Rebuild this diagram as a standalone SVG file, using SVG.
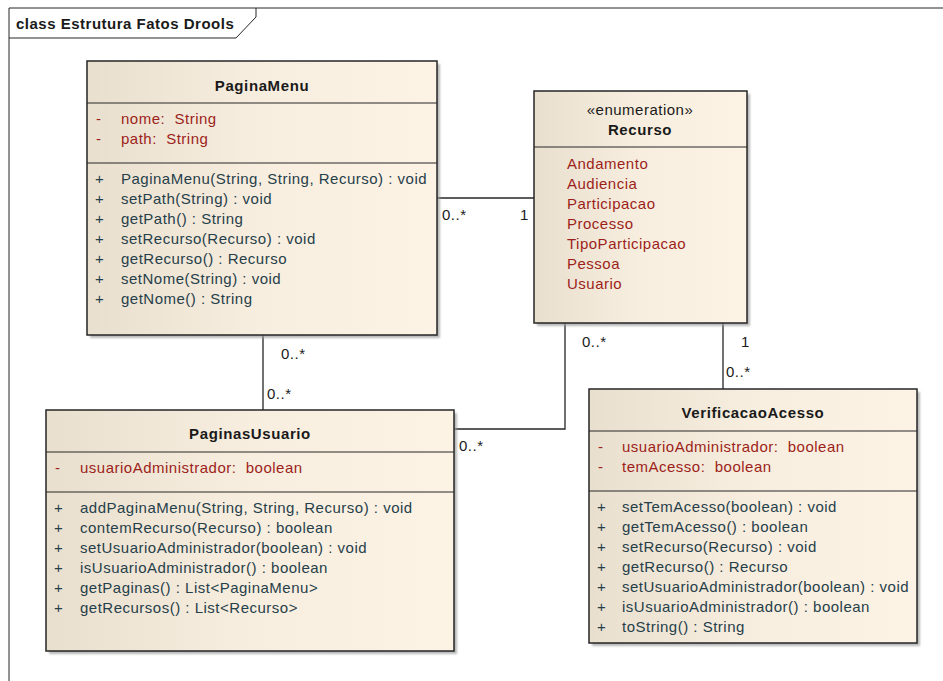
<svg xmlns="http://www.w3.org/2000/svg" width="943" height="681" viewBox="0 0 943 681">
  <defs>
    <linearGradient id="fill" x1="0" y1="0" x2="1" y2="0">
      <stop offset="0" stop-color="#e9dfcf"/>
      <stop offset="0.5" stop-color="#f8eedf"/>
      <stop offset="1" stop-color="#fcf3e5"/>
    </linearGradient>
    <filter id="shadow" x="-5%" y="-5%" width="115%" height="115%">
      <feGaussianBlur stdDeviation="1"/>
    </filter>
  </defs>
  <style>
    text { font-family: "Liberation Sans", Arial, sans-serif; font-size: 15px; letter-spacing: 0.5px; white-space: pre; }
    .title { font-weight: bold; text-anchor: middle; fill: #1a1a1a; letter-spacing: 0.6px; }
    .stereo { text-anchor: middle; fill: #1a1a1a; }
    .attr { fill: #9c1f1a; }
    .oper { fill: #26404a; }
    .mult { fill: #1a1a1a; }
    .box { fill: url(#fill); stroke: #262626; stroke-width: 1.5; }
    .shade { fill: #9a9a9a; opacity: 0.7; filter: url(#shadow); }
    .sep { stroke: #262626; stroke-width: 1.2; }
    .edge { fill: none; stroke: #262626; stroke-width: 1.3; }
    .frame { fill: none; stroke: #262626; stroke-width: 1; }
  </style>
  <rect width="943" height="681" fill="#ffffff"/>

  <!-- diagram frame with name tab -->
  <g id="frame">
    <path class="frame" d="M9,690 L9,8 L950,8"/>
    <path class="frame" d="M9,38 L236,38 L256,17 L256,8"/>
    <text x="16" y="29" style="font-weight:bold" fill="#1a1a1a">class Estrutura Fatos Drools</text>
  </g>

  <!-- associations -->
  <g id="connectors">
    <path class="edge" d="M437,198 L534,198"/>
    <path class="edge" d="M263,335 L263,410"/>
    <path class="edge" d="M565,323 L565,429 L454,429"/>
    <path class="edge" d="M723,323 L723,389"/>
    <text class="mult" x="442" y="220">0..*</text>
    <text class="mult" x="520" y="220">1</text>
    <text class="mult" x="281" y="359">0..*</text>
    <text class="mult" x="267" y="399">0..*</text>
    <text class="mult" x="582" y="347">0..*</text>
    <text class="mult" x="459" y="451">0..*</text>
    <text class="mult" x="741" y="347">1</text>
    <text class="mult" x="726" y="377">0..*</text>
  </g>

  <!-- class PaginaMenu -->
  <g id="PaginaMenu">
    <rect class="shade" x="90" y="64" width="350" height="274"/>
    <rect class="box" x="87" y="61" width="350" height="274"/>
    <line class="sep" x1="87" y1="103" x2="437" y2="103"/>
    <line class="sep" x1="87" y1="163" x2="437" y2="163"/>
    <text class="title" x="262" y="91">PaginaMenu</text>
    <text class="attr" x="96" y="124">-</text><text class="attr" x="121" y="124">nome:  String</text>
    <text class="attr" x="96" y="144">-</text><text class="attr" x="121" y="144">path:  String</text>
    <text class="oper" x="95" y="184">+</text><text class="oper" x="121" y="184">PaginaMenu(String, String, Recurso) : void</text>
    <text class="oper" x="95" y="204">+</text><text class="oper" x="121" y="204">setPath(String) : void</text>
    <text class="oper" x="95" y="224">+</text><text class="oper" x="121" y="224">getPath() : String</text>
    <text class="oper" x="95" y="244">+</text><text class="oper" x="121" y="244">setRecurso(Recurso) : void</text>
    <text class="oper" x="95" y="264">+</text><text class="oper" x="121" y="264">getRecurso() : Recurso</text>
    <text class="oper" x="95" y="284">+</text><text class="oper" x="121" y="284">setNome(String) : void</text>
    <text class="oper" x="95" y="304">+</text><text class="oper" x="121" y="304">getNome() : String</text>
  </g>

  <!-- enumeration Recurso -->
  <g id="Recurso">
    <rect class="shade" x="537" y="94" width="213" height="232"/>
    <rect class="box" x="534" y="91" width="213" height="232"/>
    <line class="sep" x1="534" y1="147" x2="747" y2="147"/>
    <text class="stereo" x="640" y="115">«enumeration»</text>
    <text class="title" x="640" y="135">Recurso</text>
    <text class="attr" x="567" y="169">Andamento</text>
    <text class="attr" x="567" y="189">Audiencia</text>
    <text class="attr" x="567" y="209">Participacao</text>
    <text class="attr" x="567" y="229">Processo</text>
    <text class="attr" x="567" y="249">TipoParticipacao</text>
    <text class="attr" x="567" y="269">Pessoa</text>
    <text class="attr" x="567" y="289">Usuario</text>
  </g>

  <!-- class PaginasUsuario -->
  <g id="PaginasUsuario">
    <rect class="shade" x="49" y="413" width="408" height="241"/>
    <rect class="box" x="46" y="410" width="408" height="241"/>
    <line class="sep" x1="46" y1="452" x2="454" y2="452"/>
    <line class="sep" x1="46" y1="492" x2="454" y2="492"/>
    <text class="title" x="250" y="439">PaginasUsuario</text>
    <text class="attr" x="55" y="473">-</text><text class="attr" x="80" y="473">usuarioAdministrador:  boolean</text>
    <text class="oper" x="54" y="513">+</text><text class="oper" x="80" y="513">addPaginaMenu(String, String, Recurso) : void</text>
    <text class="oper" x="54" y="533">+</text><text class="oper" x="80" y="533">contemRecurso(Recurso) : boolean</text>
    <text class="oper" x="54" y="553">+</text><text class="oper" x="80" y="553">setUsuarioAdministrador(boolean) : void</text>
    <text class="oper" x="54" y="573">+</text><text class="oper" x="80" y="573">isUsuarioAdministrador() : boolean</text>
    <text class="oper" x="54" y="593">+</text><text class="oper" x="80" y="593">getPaginas() : List&lt;PaginaMenu&gt;</text>
    <text class="oper" x="54" y="613">+</text><text class="oper" x="80" y="613">getRecursos() : List&lt;Recurso&gt;</text>
  </g>

  <!-- class VerificacaoAcesso -->
  <g id="VerificacaoAcesso">
    <rect class="shade" x="592" y="392" width="328" height="254"/>
    <rect class="box" x="589" y="389" width="328" height="254"/>
    <line class="sep" x1="589" y1="431" x2="917" y2="431"/>
    <line class="sep" x1="589" y1="491" x2="917" y2="491"/>
    <text class="title" x="753" y="418">VerificacaoAcesso</text>
    <text class="attr" x="598" y="452">-</text><text class="attr" x="622" y="452">usuarioAdministrador:  boolean</text>
    <text class="attr" x="598" y="472">-</text><text class="attr" x="622" y="472">temAcesso:  boolean</text>
    <text class="oper" x="597" y="512">+</text><text class="oper" x="622" y="512">setTemAcesso(boolean) : void</text>
    <text class="oper" x="597" y="532">+</text><text class="oper" x="622" y="532">getTemAcesso() : boolean</text>
    <text class="oper" x="597" y="552">+</text><text class="oper" x="622" y="552">setRecurso(Recurso) : void</text>
    <text class="oper" x="597" y="572">+</text><text class="oper" x="622" y="572">getRecurso() : Recurso</text>
    <text class="oper" x="597" y="592">+</text><text class="oper" x="622" y="592">setUsuarioAdministrador(boolean) : void</text>
    <text class="oper" x="597" y="612">+</text><text class="oper" x="622" y="612">isUsuarioAdministrador() : boolean</text>
    <text class="oper" x="597" y="632">+</text><text class="oper" x="622" y="632">toString() : String</text>
  </g>
</svg>
